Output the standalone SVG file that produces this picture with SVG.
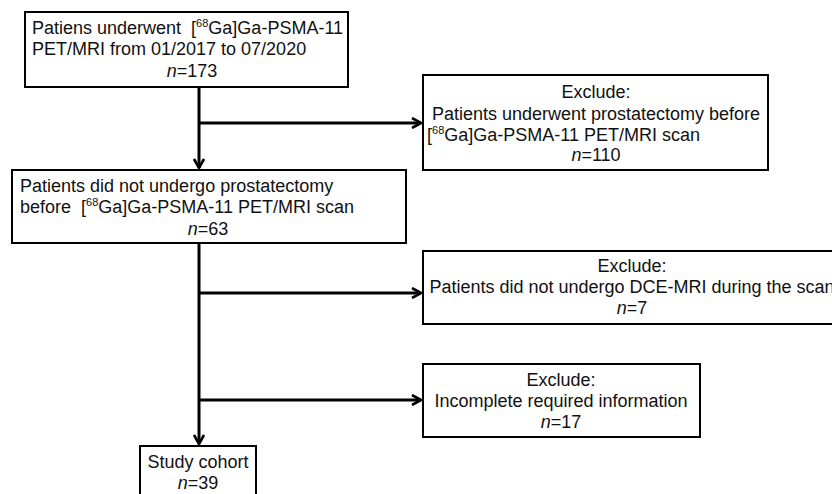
<svg xmlns="http://www.w3.org/2000/svg" width="832" height="494" viewBox="0 0 832 494">
<defs>
<style>
.box{fill:#fff;stroke:#000;stroke-width:2}
.t{font-family:"Liberation Sans",Arial,sans-serif;font-size:18px;fill:#111;white-space:pre}
.m{text-anchor:middle}
.sup{font-size:11px}
.c{fill:none;stroke:#000;stroke-width:3}
</style>
<marker id="ah" viewBox="0 0 12 12" refX="11" refY="6" markerWidth="12" markerHeight="12" markerUnits="userSpaceOnUse" orient="auto">
<path d="M2,1 L11,6 L2,11" fill="none" stroke="#000" stroke-width="2.6"/>
</marker>
</defs>
<rect width="832" height="494" fill="#fff"/>
<g id="connectors">
<line class="c" x1="199" y1="88" x2="199" y2="168" marker-end="url(#ah)"/>
<line class="c" x1="199" y1="123" x2="421" y2="123" marker-end="url(#ah)"/>
<line class="c" x1="199" y1="244" x2="199" y2="444" marker-end="url(#ah)"/>
<line class="c" x1="199" y1="293" x2="421" y2="293" marker-end="url(#ah)"/>
<line class="c" x1="199" y1="400" x2="421" y2="400" marker-end="url(#ah)"/>
</g>
<g id="n1">
<rect class="box" x="25" y="12" width="323" height="75"/>
<text class="t" x="32" y="34">Patiens underwent  [<tspan class="sup" dy="-7">68</tspan><tspan dy="7">Ga]Ga-PSMA-11</tspan></text>
<text class="t" x="32" y="55">PET/MRI from 01/2017 to 07/2020</text>
<text class="t m" x="192" y="77"><tspan font-style="italic">n</tspan>=173</text>
</g>
<g id="n2">
<rect class="box" x="423" y="75" width="345" height="95"/>
<text class="t m" x="596" y="98">Exclude:</text>
<text class="t m" x="596" y="120">Patients underwent prostatectomy before</text>
<text class="t" x="427" y="141">[<tspan class="sup" dy="-7">68</tspan><tspan dy="7">Ga]Ga-PSMA-11 PET/MRI scan</tspan></text>
<text class="t m" x="596" y="161"><tspan font-style="italic">n</tspan>=110</text>
</g>
<g id="n3">
<rect class="box" x="12" y="170" width="394" height="73"/>
<text class="t" x="20" y="192">Patients did not undergo prostatectomy</text>
<text class="t" x="20" y="213">before  [<tspan class="sup" dy="-7">68</tspan><tspan dy="7">Ga]Ga-PSMA-11 PET/MRI scan</tspan></text>
<text class="t m" x="208" y="235"><tspan font-style="italic">n</tspan>=63</text>
</g>
<g id="n4">
<rect class="box" x="423" y="251" width="420" height="73"/>
<text class="t m" x="632" y="272">Exclude:</text>
<text class="t m" x="632" y="293">Patients did not undergo DCE-MRI during the scan</text>
<text class="t m" x="632" y="314"><tspan font-style="italic">n</tspan>=7</text>
</g>
<g id="n5">
<rect class="box" x="423" y="364" width="277" height="73"/>
<text class="t m" x="561" y="386">Exclude:</text>
<text class="t m" x="561" y="407">Incomplete required information</text>
<text class="t m" x="561" y="428"><tspan font-style="italic">n</tspan>=17</text>
</g>
<g id="n6">
<rect class="box" x="140" y="446" width="116" height="60"/>
<text class="t m" x="198" y="468">Study cohort</text>
<text class="t m" x="198" y="489"><tspan font-style="italic">n</tspan>=39</text>
</g>
</svg>
